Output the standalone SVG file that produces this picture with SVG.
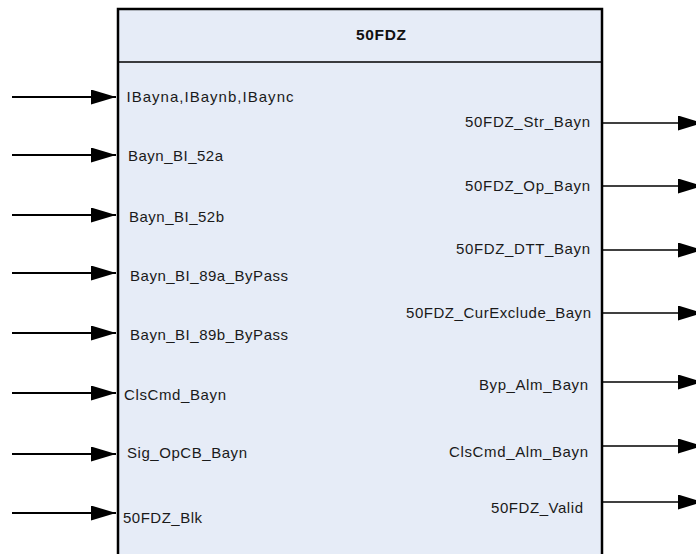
<svg xmlns="http://www.w3.org/2000/svg" width="696" height="554" viewBox="0 0 696 554">
<style>
.lbl{font-family:"Liberation Sans",Arial,sans-serif;font-size:15px;fill:#1a1a1a}
.ttl{font-family:"Liberation Sans",Arial,sans-serif;font-size:15.5px;font-weight:bold;fill:#111}
.in{stroke:#000;stroke-width:2;fill:none;marker-end:url(#ah)}
.out{stroke:#000;stroke-width:1.6;fill:none;marker-end:url(#ah)}
</style>
<defs>
<marker id="ah" viewBox="0 0 25 15" markerWidth="25" markerHeight="15" refX="25" refY="7.5" markerUnits="userSpaceOnUse" orient="auto">
<path d="M0,0 L25,7.5 L0,15 z" fill="#000"/>
</marker>
</defs>
<rect width="696" height="554" fill="#fff"/>
<g id="block-50FDZ">
<rect x="118" y="9" width="484" height="560" fill="#E6ECF7" stroke="#000" stroke-width="2.5"/>
<line x1="118" y1="62" x2="602" y2="62" stroke="#000" stroke-width="1.5"/>
<text class="ttl" x="356" y="40" textLength="50" lengthAdjust="spacing">50FDZ</text>
<text class="lbl" x="126.5" y="101.7" textLength="167" lengthAdjust="spacing">IBayna,IBaynb,IBaync</text>
<text class="lbl" x="128" y="160.7" textLength="95" lengthAdjust="spacing">Bayn_BI_52a</text>
<text class="lbl" x="129" y="221.7" textLength="95" lengthAdjust="spacing">Bayn_BI_52b</text>
<text class="lbl" x="130" y="281" textLength="158" lengthAdjust="spacing">Bayn_BI_89a_ByPass</text>
<text class="lbl" x="130" y="340" textLength="158" lengthAdjust="spacing">Bayn_BI_89b_ByPass</text>
<text class="lbl" x="124" y="400" textLength="102" lengthAdjust="spacing">ClsCmd_Bayn</text>
<text class="lbl" x="127" y="458.3" textLength="120" lengthAdjust="spacing">Sig_OpCB_Bayn</text>
<text class="lbl" x="123" y="523.3" textLength="79" lengthAdjust="spacing">50FDZ_Blk</text>
<text class="lbl" x="465" y="127" textLength="125" lengthAdjust="spacing">50FDZ_Str_Bayn</text>
<text class="lbl" x="465" y="190.7" textLength="125" lengthAdjust="spacing">50FDZ_Op_Bayn</text>
<text class="lbl" x="456" y="254" textLength="134" lengthAdjust="spacing">50FDZ_DTT_Bayn</text>
<text class="lbl" x="406" y="318.3" textLength="185" lengthAdjust="spacing">50FDZ_CurExclude_Bayn</text>
<text class="lbl" x="479" y="390" textLength="109" lengthAdjust="spacing">Byp_Alm_Bayn</text>
<text class="lbl" x="449" y="456.7" textLength="139" lengthAdjust="spacing">ClsCmd_Alm_Bayn</text>
<text class="lbl" x="491" y="513.3" textLength="92" lengthAdjust="spacing">50FDZ_Valid</text>
</g>
<g id="connectors">
<line class="in" x1="12" y1="97" x2="116" y2="97"/>
<line class="in" x1="12" y1="155" x2="116" y2="155"/>
<line class="in" x1="12" y1="215" x2="116" y2="215"/>
<line class="in" x1="12" y1="273" x2="116" y2="273"/>
<line class="in" x1="12" y1="333" x2="116" y2="333"/>
<line class="in" x1="12" y1="393" x2="116" y2="393"/>
<line class="in" x1="12" y1="454" x2="116" y2="454"/>
<line class="in" x1="12" y1="513" x2="116" y2="513"/>
<line class="out" x1="603" y1="123" x2="703" y2="123"/>
<line class="out" x1="603" y1="186" x2="703" y2="186"/>
<line class="out" x1="603" y1="250" x2="703" y2="250"/>
<line class="out" x1="603" y1="313" x2="703" y2="313"/>
<line class="out" x1="603" y1="382" x2="703" y2="382"/>
<line class="out" x1="603" y1="446" x2="703" y2="446"/>
<line class="out" x1="603" y1="502" x2="703" y2="502"/>
</g>
</svg>
